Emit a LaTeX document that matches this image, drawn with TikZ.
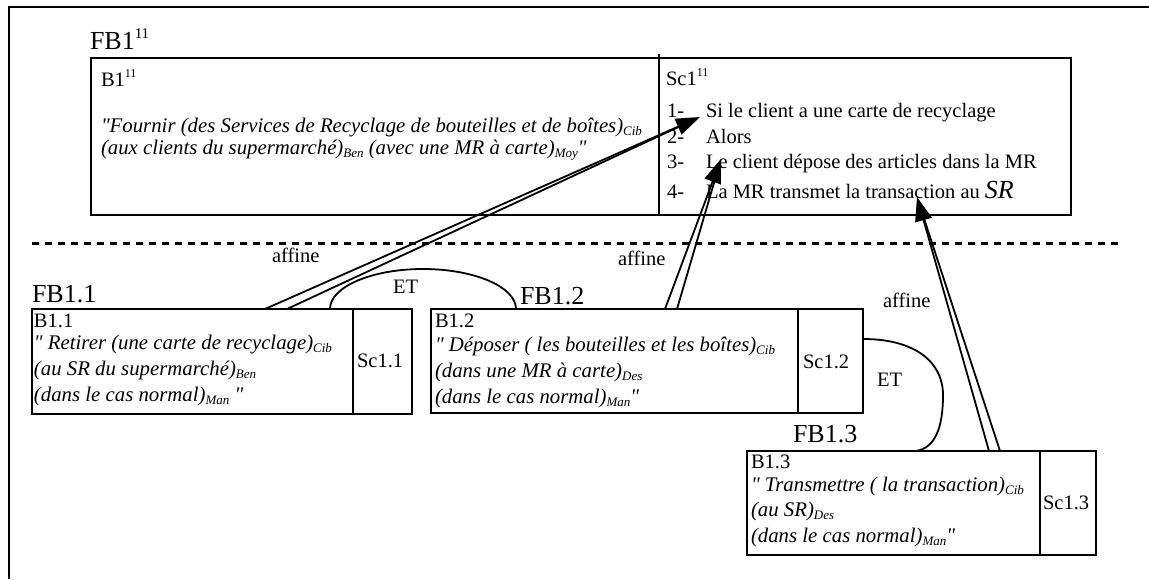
\documentclass[tikz,border=0pt]{standalone}
\usepackage{fontspec}
\setmainfont{Liberation Serif}[Ligatures=TeXOff]
\usetikzlibrary{arrows.meta,calc}
\newcommand{\lowtag}[1]{\raisebox{-3.5pt}{\fontsize{13}{13}\selectfont\itshape #1}}
\newcommand{\uptag}[1]{\raisebox{9pt}{\fontsize{12}{12}\selectfont #1}}
\newcommand{\bigup}[1]{\raisebox{11pt}{\fontsize{15}{15}\selectfont #1}}
\begin{document}
\begin{tikzpicture}[x=1pt,y=-1pt,line join=miter,
  box/.style={draw, line width=2.2pt, inner sep=0pt, outer sep=0pt, anchor=north west},
  txt/.style={anchor=base west, inner sep=0pt, outer sep=0pt, font=\fontsize{20.5}{24}\selectfont},
  itx/.style={anchor=base west, inner sep=0pt, outer sep=0pt, font=\fontsize{20.8}{24}\selectfont\itshape},
  bigl/.style={anchor=base west, inner sep=0pt, outer sep=0pt, font=\fontsize{26}{30}\selectfont},
  conn/.style={line width=1.8pt},
  head/.style={-{Triangle[length=24pt,width=17pt]}},
  divline/.style={line width=2.2pt}]
\useasboundingbox (0,0) rectangle (1149,579);
% outer frame
\draw[line width=2.5pt] (9,579) -- (9,7) -- (1149,7);

% top block
\node[bigl] (fb11) at (90,49) {FB1\bigup{11}};
\node[box, minimum width=980pt, minimum height=157pt] (top) at (91,58) {};
\draw[divline] (659,54) -- (659,215);
\node[txt] (b11) at (101,86) {B1\uptag{11}};
\node[itx] (b11l1) at (101,132) {"Fournir (des Services de Recyclage de bouteilles et de boîtes)\lowtag{Cib}};
\node[itx] (b11l2) at (101,154) {(aux clients du supermarché)\lowtag{Ben} (avec une MR à carte)\lowtag{Moy}"};
\node[txt] (sc11) at (666,85) {Sc1\uptag{11}};
\node[txt] (n1) at (667,117) {1-};
\node[txt] (n2) at (667,143) {2-};
\node[txt] (n3) at (667,168) {3-};
\node[txt] (n4) at (667,198) {4-};
\node[txt] (it1) at (706,117) {Si le client a une carte de recyclage};
\node[txt] (it2) at (706,143) {Alors};
\node[txt] (it3) at (706,168) {Le client dépose des articles dans la MR};
\node[txt] (it4) at (706,198) {La MR transmet la transaction au {\fontsize{26}{30}\selectfont\itshape SR}};

% separator
\draw[line width=3pt, dash pattern=on 7pt off 6pt] (32,243) -- (1123,243);

% B1.1
\node[bigl] (fb1a) at (32,302) {FB1.1};
\node[box, minimum width=380pt, minimum height=105pt] (ba) at (32,309) {};
\draw[divline] (353,309) -- (353,414);
\node[txt] (bal0) at (34,327) {B1.1};
\node[itx] (bal1) at (34,349) {" Retirer (une carte de recyclage)\lowtag{Cib}};
\node[itx] (bal2) at (34,375) {(au SR du supermarché)\lowtag{Ben}};
\node[itx] (bal3) at (34,401) {(dans le cas normal)\lowtag{Man} "};
\node[txt] (sca) at (357,367) {Sc1.1};

% B1.2
\node[bigl] (fb1b) at (520,304) {FB1.2};
\node[box, minimum width=432pt, minimum height=104pt] (bb) at (431,309) {};
\draw[divline] (798,309) -- (798,413);
\node[txt] (bbl0) at (435,327) {B1.2};
\node[itx] (bbl1) at (435,351) {" Déposer ( les bouteilles et les boîtes)\lowtag{Cib}};
\node[itx] (bbl2) at (435,377) {(dans une MR à carte)\lowtag{Des}};
\node[itx] (bbl3) at (435,403) {(dans le cas normal)\lowtag{Man}"};
\node[txt] (scb) at (803,368) {Sc1.2};

% B1.3
\node[bigl] (fb1c) at (793,442) {FB1.3};
\node[box, minimum width=349pt, minimum height=104pt] (bc) at (747,451) {};
\draw[divline] (1040,451) -- (1040,555);
\node[txt] (bcl0) at (751,468) {B1.3};
\node[itx] (bcl1) at (751,491) {" Transmettre ( la transaction)\lowtag{Cib}};
\node[itx] (bcl2) at (751,516) {(au SR)\lowtag{Des}};
\node[itx] (bcl3) at (751,542) {(dans le cas normal)\lowtag{Man}"};
\node[txt] (scc) at (1043,509) {Sc1.3};

% labels
\node[txt] (aff1) at (272,262) {affine};
\node[txt] (aff2) at (618,265) {affine};
\node[txt] (aff3) at (883,307) {affine};
\node[txt] (et1) at (393,293) {ET};
\node[txt] (et2) at (877,386) {ET};

% connection points
\coordinate (a1s) at ($(ba.north west)+(233,0)$);
\coordinate (a1r) at ($(ba.north west)+(255,0)$);
\coordinate (a1t) at ($(it1.base west)+(-6,0)$);
\coordinate (a2s) at ($(bb.north west)+(234,0)$);
\coordinate (a2r) at ($(bb.north west)+(246,0)$);
\coordinate (a2t) at ($(it3.base west)+(15,-9)$);
\coordinate (a3s) at ($(bc.north west)+(242,0)$);
\coordinate (a3r) at ($(bc.north west)+(253,0)$);
\coordinate (a3t) at (917,197);

% ET arcs
\draw[conn] ($(ba.north west)+(298,0)$) coordinate (e1s)
  arc[start angle=180, end angle=360, x radius=93, y radius=40];
\draw[conn] ($(bb.north east)+(0,30)$) .. controls (915,339) and (943,362) .. (943,395)
  .. controls (943,428) and (935,448) .. ($(bc.north west)+(169,0)$);

% affine arrows
\draw[conn, head] (a1s) -- (a1t);
\draw[conn, shorten >=18pt] (a1r) -- (a1t);
\draw[conn, head] (a2s) -- (a2t);
\draw[conn, shorten >=18pt] (a2r) -- (a2t);
\draw[conn, head] (a3s) -- (a3t);
\draw[conn, shorten >=18pt] (a3r) -- (a3t);
\end{tikzpicture}
\end{document}
